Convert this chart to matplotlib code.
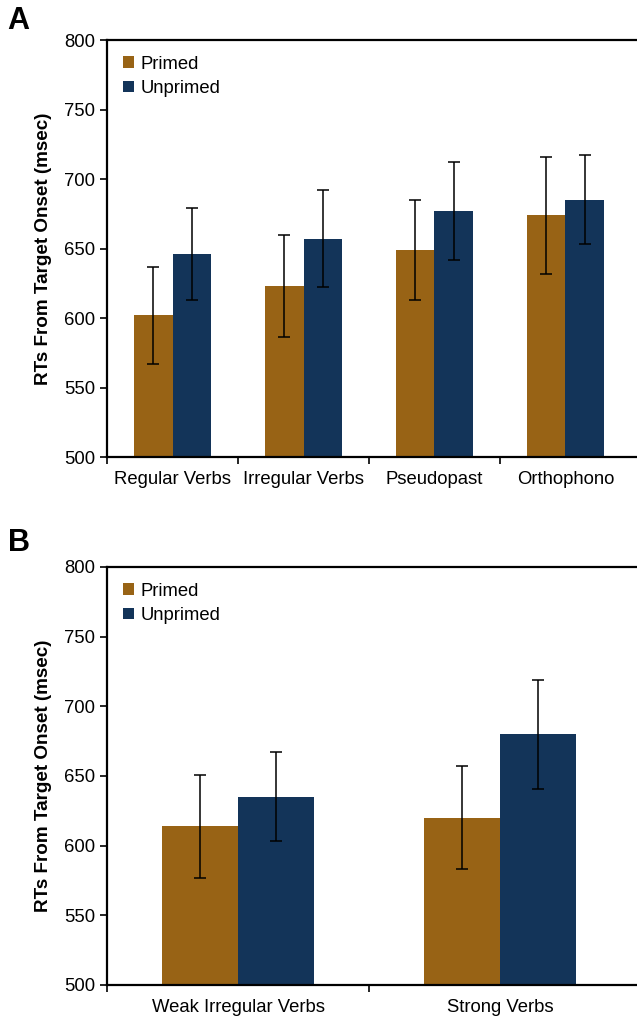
import matplotlib
matplotlib.use("Agg")
import matplotlib.pyplot as plt
import numpy as np

plt.rcParams['font.family'] = ['Liberation Sans', 'DejaVu Sans']

# panel A
cats_a = ["Regular Verbs", "Irregular Verbs", "Pseudopast", "Orthophono"]
primed_a = [602, 623, 649, 674]
unprimed_a = [646, 657, 677, 685]
primed_err_a = [35, 37, 36, 42]
unprimed_err_a = [33, 35, 35, 32]

# panel B
cats_b = ["Weak Irregular Verbs", "Strong Verbs"]
primed_b = [614, 620]
unprimed_b = [635, 680]
primed_err_b = [37, 37]
unprimed_err_b = [32, 39]

PRIMED = "#986315"
UNPRIMED = "#133459"

fig = plt.figure(figsize=(6.37, 10.19), dpi=100)


def panel(ax, cats, prim, unprim, perr, uerr, width, xmax):
    x = np.arange(len(cats))
    ekw = dict(ecolor="black", elinewidth=1.1, capsize=4.5, capthick=1.1)
    ax.bar(x - width / 2, prim, width, color=PRIMED, yerr=perr,
           error_kw=ekw, label="Primed")
    ax.bar(x + width / 2, unprim, width, color=UNPRIMED, yerr=uerr,
           error_kw=ekw, label="Unprimed")
    ax.set_ylim(500, 800)
    ax.set_yticks(range(500, 801, 50))
    ax.set_xlim(-0.5, xmax)
    ax.set_xticks(x)
    ax.set_xticklabels(cats, fontsize=13.3)
    # category separators as tick marks (Excel style)
    ax.set_xticks(np.arange(len(cats)) - 0.5, minor=True)
    ax.tick_params(axis="x", which="major", length=0, pad=10)
    ax.tick_params(axis="x", which="minor", length=5, width=1.2, direction="out")
    ax.tick_params(axis="y", length=5, width=1.2, direction="out", labelsize=13.3)
    ax.spines["right"].set_visible(False)
    for s in ["left", "bottom", "top"]:
        ax.spines[s].set_linewidth(1.6)
    ax.set_ylabel("RTs From Target Onset (msec)", fontsize=13.6,
                  fontweight="bold", labelpad=9)
    ax.legend(loc="upper left", frameon=False, fontsize=13.3,
              handlelength=0.6, handleheight=0.6, handletextpad=0.35,
              labelspacing=0.4, borderaxespad=0.45)


ax1 = fig.add_axes([0.168, 0.5515, 0.832, 0.4092])
panel(ax1, cats_a, primed_a, unprimed_a, primed_err_a, unprimed_err_a,
      0.296, 3.546)
ax2 = fig.add_axes([0.168, 0.0334, 0.832, 0.4102])
panel(ax2, cats_b, primed_b, unprimed_b, primed_err_b, unprimed_err_b,
      0.29, 1.523)

fig.text(0.012, 0.979, "A", fontsize=22, fontweight="bold", va="center")
fig.text(0.012, 0.467, "B", fontsize=22, fontweight="bold", va="center")

fig.savefig("out.png", dpi=100)
